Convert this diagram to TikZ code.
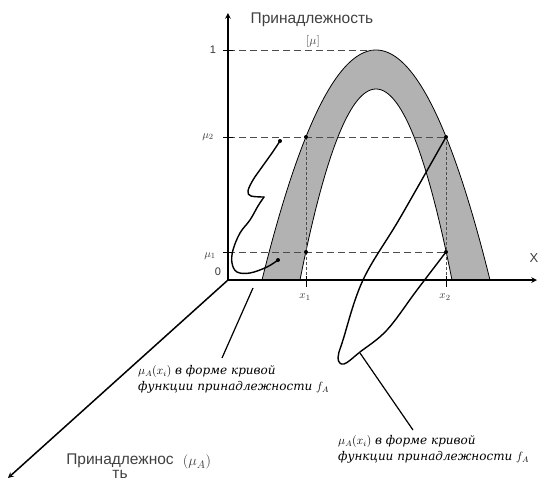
\documentclass[tikz,border=0pt]{standalone}
\usepackage{fontspec}
\setmainfont{Liberation Sans}
\newfontfamily\capfont{DejaVu Serif}
\usetikzlibrary{positioning}

\tikzset{
  axis/.style={line width=1.5pt, ->},
  helper/.style={black!70, line width=0.6pt, dash pattern=on 7pt off 4pt},
  guide/.style={black!70, line width=0.6pt, dash pattern=on 3pt off 2pt},
  member/.style={line width=1.4pt, line cap=round},
  caption/.style={font=\capfont\itshape\fontsize{12}{16}\selectfont, align=left, inner sep=0pt},
  axlabel/.style={font=\fontsize{15.5}{17}\selectfont, text=black!75},
  ticklabel/.style={font=\fontsize{11}{12}\selectfont, text=black!80}
}

\begin{document}
\begin{tikzpicture}[x=1pt, y=1pt, >=stealth]
  \useasboundingbox (-228,-203) rectangle (314,280);

  % 1. grey band between the two membership curves
  \fill[black!30] plot[domain=34:262, samples=90] (\x, {230*(1-((\x-148)/114)^2)})
    -- plot[domain=224:72, samples=70] (\x, {191*(1-((\x-148)/76)^2)}) -- cycle;
  \draw[line width=0.8pt] plot[domain=34:262, samples=90] (\x, {230*(1-((\x-148)/114)^2)});
  \draw[line width=0.8pt] plot[domain=72:224, samples=70] (\x, {191*(1-((\x-148)/76)^2)});

  % 2. dashed helper lines
  \coordinate (pA) at (78,143);
  \coordinate (pB) at (218,143);
  \coordinate (pC) at (78,28);
  \coordinate (pD) at (218,28);
  \draw[helper] (0,230) -- (146,230);
  \draw[helper] (0,143) -- (pB);
  \draw[helper] (0,28) -- (pD);
  \draw[guide] (pA) -- (78,0);
  \draw[guide] (pB) -- (218,0);

  % 3. axes
  \coordinate (O) at (0,0);
  \draw[axis] (O) -- (0,267) coordinate (ytip);
  \draw[axis] (O) -- (309,0) coordinate (xtip);
  \draw[axis] (O) -- (-220,-198) coordinate (ztip);
  \node[axlabel] (ylab) at (84,260) {Принадлежность};
  \node[font=\fontsize{13}{13}\selectfont, text=black!75] (ymu) at (85,239) {$[\mu]$};
  \node[font=\fontsize{13}{13}\selectfont, text=black!75] (xlab) at (306,22) {X};
  \node[axlabel, align=center, font=\fontsize{15.5}{14}\selectfont] (zlab) at (-108,-186) {Принадлежнос\\ть};
  \node[font=\fontsize{15}{15}\selectfont, text=black!75] (zmu) at (-31,-182) {$(\mu_A)$};

  % 4. ticks
  \foreach \yy in {230,143,28} \draw[line width=0.8pt] (-5,\yy) -- (5,\yy);
  \foreach \xx in {78,218} \draw[line width=0.8pt] (\xx,4) -- (\xx,-7);
  \node[ticklabel] (t1) at (-15,230) {1};
  \node[ticklabel] (t2) at (-20,143) {$\mu_2$};
  \node[ticklabel] (t3) at (-18,24) {$\mu_1$};
  \node[ticklabel] (t0) at (-10,8) {0};
  \node[ticklabel] (tx1) at (77,-17) {$x_1$};
  \node[ticklabel] (tx2) at (217,-17) {$x_2$};

  % 5. membership degree curves
  \coordinate (qA) at (52,139);
  \coordinate (qC) at (50,20);
  \draw[member] plot[smooth, tension=0.6] coordinates {(qA) (44,127) (34,113) (25,100) (20,89) (23,84) (36,83)};
  \draw[member] plot[smooth, tension=0.6] coordinates {(36,83) (30,74) (22,60) (12,47) (5,30) (4,17) (9,8) (22,7) (39,13) (qC)};
  \draw[member] plot[smooth, tension=0.6] coordinates {(pB) (172,62) (135,0) (115,-60) (110,-78) (116,-84) (132,-72) (159,-50) (189,-10) (pD)};

  % 6. points
  \foreach \p in {pA,pB,pC,pD,qA,qC} \fill (\p) circle (2pt);

  % 7. captions
  \node[caption, anchor=north west] (lcap) at (-90,-85)
    {$\mu_A(x_i)$ в форме кривой\\функции принадлежности $f_A$};
  \node[caption, anchor=north west] (rcap) at (110,-155)
    {$\mu_A(x_i)$ в форме кривой\\функции принадлежности $f_A$};
  \coordinate (lp) at (25,-8);
  \coordinate (lfoot) at (-6,-78);
  \coordinate (rp) at (132,-73);
  \coordinate (rfoot) at (185,-150);
  \draw[line width=1.2pt] (lfoot) -- (lp);
  \draw[line width=1.2pt] (rp) -- (rfoot);
\end{tikzpicture}
\end{document}
